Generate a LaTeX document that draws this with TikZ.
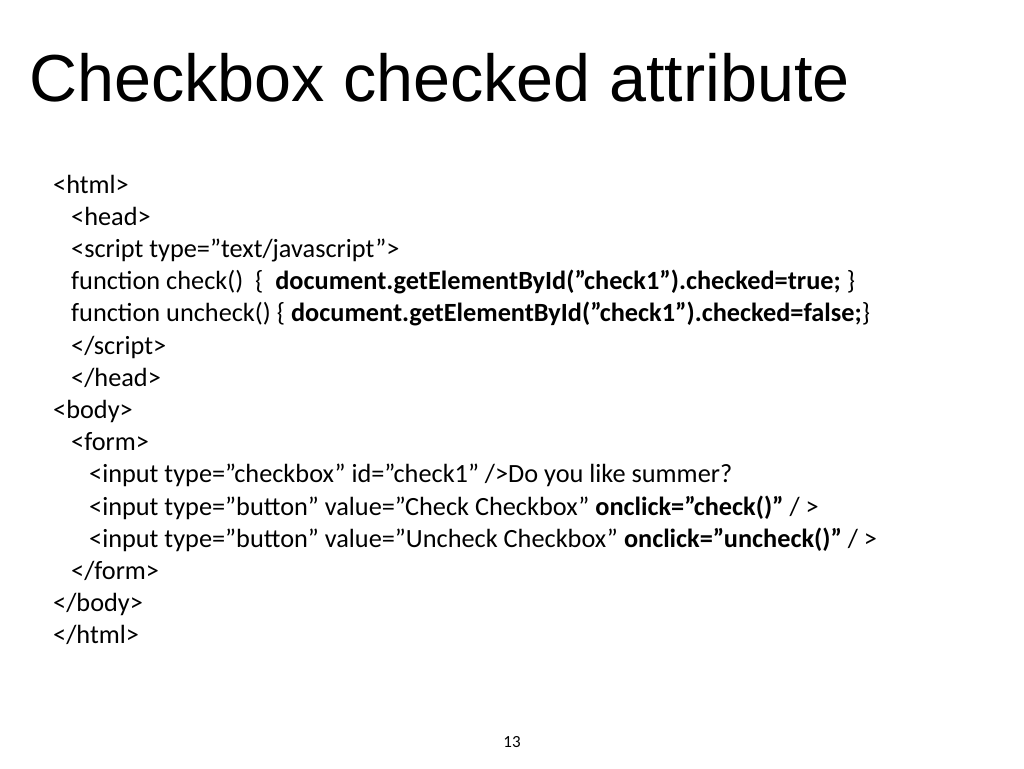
\documentclass[tikz,border=0pt]{standalone}
\usepackage{fontspec}
\setmainfont{Carlito}[Ligatures=ResetAll]
\newfontfamily\titlefont{Liberation Sans}
\tikzset{
  codeline/.style={anchor=base west, inner sep=0pt, font=\fontsize{26.3}{30}\selectfont},
}
\begin{document}
\begin{tikzpicture}[x=1pt,y=-1pt]
    \useasboundingbox (0,0) rectangle (1024,768);
    % Title
    \node[anchor=base west, inner sep=0pt, font=\titlefont\fontsize{66.5}{72}\selectfont] (title) at (29,101) {Checkbox checked attribute};
    % Code
    \node[codeline] (l0) at (53,193) {<html>};
    \node[codeline] (l1) at (71,225.2) {<head>};
    \node[codeline] (l2) at (71,257.4) {<script type="text/javascript">};
    \node[codeline] (l3) at (71,289.6) {function check()~~\{~~\textbf{document.getElementById("check1").checked=true;} \}};
    \node[codeline] (l4) at (71,321.8) {function uncheck() \{ \textbf{document.getElementById("check1").checked=false;}\}};
    \node[codeline] (l5) at (71,354) {</script>};
    \node[codeline] (l6) at (71,386.2) {</head>};
    \node[codeline] (l7) at (53,418.4) {<body>};
    \node[codeline] (l8) at (71,450.6) {<form>};
    \node[codeline] (l9) at (89,482.8) {<input type="checkbox" id="check1" />Do you like summer?};
    \node[codeline] (l10) at (89,515) {<input type="button" value="Check Checkbox" \textbf{onclick="check()"} / >};
    \node[codeline] (l11) at (89,547.2) {<input type="button" value="Uncheck Checkbox" \textbf{onclick="uncheck()"} / >};
    \node[codeline] (l12) at (71,579.4) {</form>};
    \node[codeline] (l13) at (53,611.6) {</body>};
    \node[codeline] (l14) at (53,643.8) {</html>};
    % Page number
    \node[inner sep=0pt, font=\fontsize{17}{20}\selectfont] (page) at (512,742) {13};
\end{tikzpicture}
\end{document}
